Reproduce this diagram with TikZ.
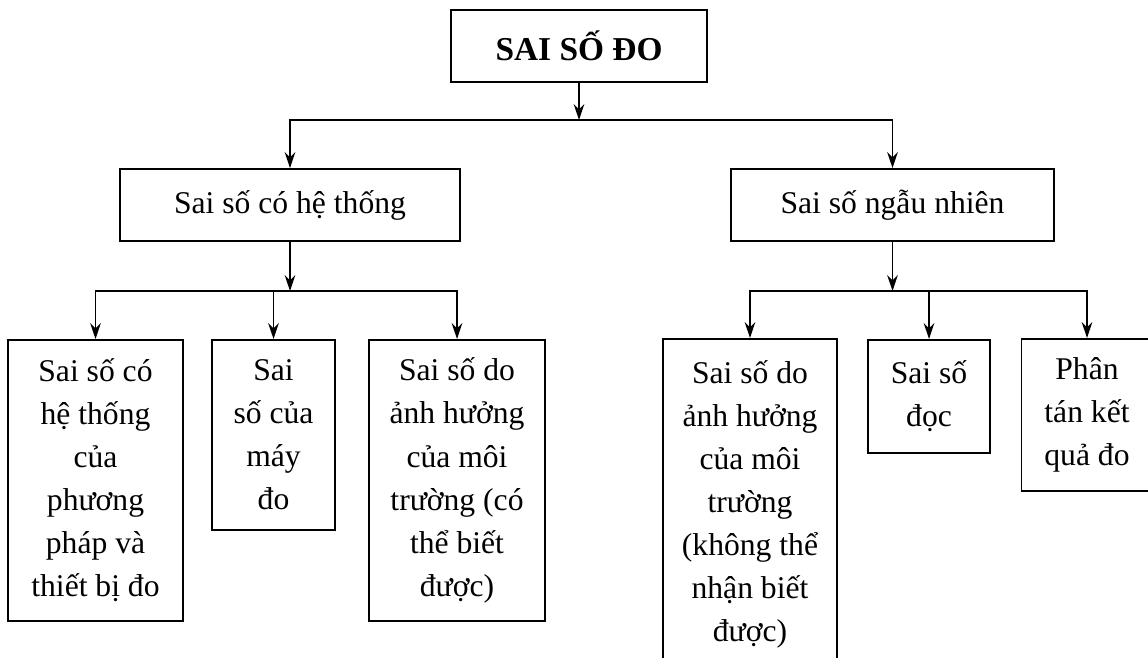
\documentclass[tikz,border=0pt]{standalone}
\usepackage{fontspec}
\setmainfont{Liberation Serif}
\usetikzlibrary{arrows.meta}

\begin{document}
\begin{tikzpicture}[x=0.02cm, y=-0.02cm,
  box/.style={draw, line width=1.1pt, align=center, inner sep=2pt, font=\fontsize{18}{24.5}\selectfont},
  link/.style={-{Stealth[length=9pt,width=6pt]}, line width=1.1pt}]
\clip (0,0) rectangle (1148,658);

\path (579,46) node[box, minimum width=5.12cm, minimum height=1.44cm, font=\fontsize{19}{22}\selectfont\bfseries](sai-so-do) {SAI SỐ ĐO};

\path (290,205) node[box, minimum width=6.8cm, minimum height=1.44cm](he-thong) {Sai số có hệ thống};
\path (892.5,205) node[box, minimum width=6.46cm, minimum height=1.44cm](ngau-nhien) {Sai số ngẫu nhiên};

\path (95.5,339) node[box, anchor=north, minimum width=3.5cm, minimum height=5.62cm](phuong-phap) {Sai số có\\hệ thống\\của\\phương\\pháp và\\thiết bị đo};
\path (273.5,339) node[box, anchor=north, minimum width=2.46cm, minimum height=3.8cm](may-do) {Sai\\số của\\máy\\đo};
\path (457,339) node[box, anchor=north, minimum width=3.52cm, minimum height=5.62cm](moi-truong) {Sai số do\\ảnh hưởng\\của môi\\trường (có\\thể biết\\được)};

\path (750,338) node[box, anchor=north, minimum width=3.48cm, minimum height=6.62cm](khong-the) {Sai số do\\ảnh hưởng\\của môi\\trường\\(không thể\\nhận biết\\được)};
\path (929,339) node[box, anchor=north, minimum width=2.44cm, minimum height=2.26cm](doc) {Sai số\\đọc};
\path (1087,338) node[box, anchor=north, minimum width=2.62cm, minimum height=3.04cm](phan-tan) {Phân\\tán kết\\quả đo};

\coordinate (top-split) at (579,120);
\coordinate (left-split) at (290,291);
\coordinate (right-split) at (892.5,291);

\draw[link] (sai-so-do) -- (top-split);
\draw[link] (top-split) -| (he-thong);
\draw[link] (top-split) -| (ngau-nhien);

\draw[link] (he-thong) -- (left-split);
\draw[link] (left-split) -| (phuong-phap);
\draw[link] (left-split) -| (may-do);
\draw[link] (left-split) -| (moi-truong);

\draw[link] (ngau-nhien) -- (right-split);
\draw[link] (right-split) -| (khong-the);
\draw[link] (right-split) -| (doc);
\draw[link] (right-split) -| (phan-tan);

\end{tikzpicture}
\end{document}
